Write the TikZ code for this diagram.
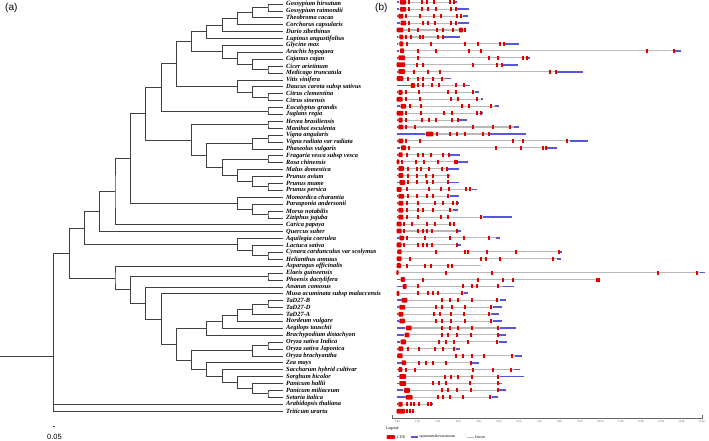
\documentclass[tikz,border=0pt]{standalone}
\usepackage{fontspec}
\setmainfont{Liberation Serif}
\newfontfamily\panelfont{Liberation Sans}
\usetikzlibrary{calc}

% clade: name, height, first child, second child
\newcommand\clade[4]{%
  \path let \p1=(#3), \p2=(#4) in coordinate (#1) at ({283.3pt-15.3pt*#2}, {(\y1+\y2)/2});
  \draw[branch] (#3) -| (#1) |- (#4);
}
% gene: row, end, UTRs, long CDS, short CDS centres
\newcommand\gene[5]{%
  \pgfmathsetmacro\gy{2.3+(#1-1)*6.93}
  \draw[intron] (20,\gy) -- (#2,\gy);
  \foreach \s/\e in {#3} \fill[utr] (\s,\gy-0.9) rectangle (\e,\gy+0.9);
  \foreach \s/\e in {#4} \fill[cds, rounded corners=0.8pt] (\s,\gy-2.4) rectangle (\e,\gy+2.4);
  \foreach \c in {#5} \fill[cds] (\c-3,\gy-2) rectangle (\c+3,\gy+2);
}

\begin{document}
\begin{tikzpicture}[x=1pt, y=-1pt,
    branch/.style={draw=black!75, line width=0.8pt},
    species/.style={anchor=west, inner sep=0pt, font=\fontsize{6.4}{7}\selectfont\bfseries\itshape},
    panel/.style={anchor=west, inner sep=0pt, font=\panelfont\fontsize{10}{12}\selectfont},
    cds/.style={fill=red!90!black},
    utr/.style={fill=blue!60!white!85!black},
    intron/.style={draw=black!28, line width=1.1pt},
    kb/.style={inner sep=0pt, font=\fontsize{3}{3.5}\selectfont},
    legendtext/.style={anchor=west, inner sep=0pt, font=\fontsize{4}{5}\selectfont}
  ]
  \useasboundingbox (0,0) rectangle (709,440);

  \node[panel] (pa) at (5,8) {(a)};
  \node[panel] (pb) at (375,8) {(b)};

  % leaves
  \foreach \tag/\name [count=\i] in {
      ghir/Gossypium hirsutum, grai/Gossypium raimondii, tcac/Theobroma cacao,
      ccap/Corchorus capsularis, dzib/Durio zibethinus, lang/Lupinus angustifolius,
      gmax/Glycine max, ahyp/Arachis hypogaea, ccaj/Cajanus cajan,
      cari/Cicer arietinum, mtru/Medicago truncatula, vvin/Vitis vinifera,
      dcar/Daucus carota subsp sativus, ccle/Citrus clementina, csin/Citrus sinensis,
      egra/Eucalyptus grandis, jreg/Juglans regia, hbra/Hevea brasiliensis,
      mesc/Manihot esculenta, vang/Vigna angularis, vrad/Vigna radiata var radiata,
      pvul/Phaseolus vulgaris, fves/Fragaria vesca subsp vesca, rchi/Rosa chinensis,
      mdom/Malus domestica, pavi/Prunus avium, pmum/Prunus mume,
      pper/Prunus persica, mcha/Momordica charantia, pand/Parasponia andersonii,
      mnot/Morus notabilis, zjuj/Ziziphus jujuba, cpap/Carica papaya,
      qsub/Quercus suber, acoe/Aquilegia coerulea, lsat/Lactuca sativa,
      ccar/Cynara cardunculus var scolymus, hann/Helianthus annuus, aoff/Asparagus officinalis,
      egui/Elaeis guineensis, pdac/Phoenix dactylifera, acom/Ananas comosus,
      macu/Musa acuminata subsp malaccensis, tab/TaD27-B, tad/TaD27-D,
      taa/TaD27-A, hvul/Hordeum vulgare, atau/Aegilops tauschii,
      bdis/Brachypodium distachyon, osi/Oryza sativa Indica, osj/Oryza sativa Japonica,
      obra/Oryza brachyantha, zmay/Zea mays, shyb/Saccharum hybrid cultivar,
      sbic/Sorghum bicolor, phal/Panicum hallii, pmil/Panicum miliaceum,
      sita/Setaria italica, atha/Arabidopsis thaliana, tura/Triticum urartu} {
    \coordinate (\tag) at (283.3, {4+(\i-1)*6.9});
    \node[species] (\tag-name) at (286, {4+(\i-1)*6.9}) {\name};
  }

  % eudicots
  \clade{c1}{1}{ghir}{grai}
  \clade{c2}{2}{c1}{tcac}
  \clade{c3}{3}{c2}{ccap}
  \clade{c4}{4}{c3}{dzib}
  \clade{c5}{5}{c4}{lang}
  \clade{c6}{1}{cari}{mtru}
  \clade{c7}{2}{ccaj}{c6}
  \clade{c8}{3}{ahyp}{c7}
  \clade{c9}{4}{gmax}{c8}
  \clade{c10}{6}{c5}{c9}
  \clade{c11}{1}{ccle}{csin}
  \clade{c12}{2}{dcar}{c11}
  \clade{c13}{3}{vvin}{c12}
  \clade{c14}{7}{c10}{c13}
  \clade{c15}{1}{egra}{jreg}
  \clade{c16}{8}{c14}{c15}
  \clade{c17}{1}{hbra}{mesc}
  \clade{c18}{1}{vang}{vrad}
  \clade{c19}{2}{c18}{pvul}
  \clade{c20}{1}{fves}{rchi}
  \clade{c21}{1}{pmum}{pper}
  \clade{c22}{2}{pavi}{c21}
  \clade{c23}{3}{mdom}{c22}
  \clade{c24}{4}{c20}{c23}
  \clade{c25}{5}{c19}{c24}
  \clade{c26}{6}{c17}{c25}
  \clade{c27}{9}{c16}{c26}
  \clade{c28}{1}{mnot}{zjuj}
  \clade{c29}{2}{pand}{c28}
  \clade{c30}{3}{mcha}{c29}
  \clade{c31}{10}{c27}{c30}
  \clade{c32}{11}{c31}{cpap}
  \clade{c33}{12}{c32}{qsub}
  \clade{c34}{1}{ccar}{hann}
  \clade{c35}{2}{lsat}{c34}
  \clade{c36}{3}{acoe}{c35}
  \clade{c37}{13}{c33}{c36}
  % monocots
  \clade{m1}{1}{egui}{pdac}
  \clade{m2}{1}{tab}{tad}
  \clade{m3}{2}{m2}{taa}
  \clade{m4}{3}{m3}{hvul}
  \clade{m5}{4}{m4}{atau}
  \clade{m6}{5}{m5}{bdis}
  \clade{m7}{1}{osi}{osj}
  \clade{m8}{2}{m7}{obra}
  \clade{m9}{1}{pmil}{sita}
  \clade{m10}{2}{phal}{m9}
  \clade{m11}{3}{sbic}{m10}
  \clade{m12}{4}{shyb}{m11}
  \clade{m13}{5}{zmay}{m12}
  \clade{m14}{6}{m8}{m13}
  \clade{m15}{7}{m6}{m14}
  \clade{m16}{8}{macu}{m15}
  \clade{m17}{9}{acom}{m16}
  \clade{m18}{10}{m1}{m17}
  \clade{m19}{11}{aoff}{m18}
  \clade{c38}{14}{c37}{m19}
  % root
  \path let \p1=(c38), \p2=(atha), \p3=(tura) in
    coordinate (root) at (53.5pt, {(\y1+\y2+\y3)/3})
    coordinate (base) at (0pt, {(\y1+\y2+\y3)/3});
  \draw[branch] (c38) -| (root) |- (tura);
  \draw[branch] (atha) -| (root);
  \draw[branch] (base) -- (root);

  % scale bar
  \coordinate (sb1) at (53.3,426);
  \coordinate (sb2) at (55,426);
  \draw[branch] (sb1) -- (sb2);
  \node[font=\panelfont\fontsize{7.5}{9}\selectfont, inner sep=0pt] (sbl) at (54.5,437) {0.05};

  % gene structures
  \begin{scope}[xshift=390pt, x=0.3333pt]
    \gene{1}{202}{20/28,195/202}{30/48}{57,97,112,133,180,192}
    \gene{2}{238}{20/28,200/238}{30/48}{57,97,115,137,183,197}
    \gene{3}{233}{20/25,218/233}{25/40}{47,90,133,153,200,213}
    \gene{4}{238}{20/30,203/238}{32/48}{56,100,115,135,183,199}
    \gene{5}{226}{20/20}{20/40,207/219}{56,83,140,160,190,225}
    \gene{6}{210}{20/25,162/210}{28/40}{47,63,90,98,143,158}
    \gene{7}{388}{20/25,345/388}{28/40}{50,122,225,265,330,342}
    \gene{8}{873}{20/28,853/873}{30/42}{85,138,238,272,770,852}
    \gene{9}{420}{20/25,415/420}{25/45}{83,297,325,398,410}
    \gene{10}{385}{20/20,338/385}{20/45}{80,98,248,320,335}
    \gene{11}{580}{20/25,500/580}{25/45}{72,113,150,480,498}
    \gene{12}{183}{20/20,165/183}{20/40}{55,85,100,130,155}
    \gene{13}{240}{20/60,225/240}{62/75}{85,100,125,148,198,222}
    \gene{14}{268}{20/25,255/268}{25/38}{48,88,173,197,250}
    \gene{15}{280}{20/20,273/280}{20/38}{48,90,183,205,260}
    \gene{16}{328}{20/30,315/328}{32/48}{60,93,215,238,302}
    \gene{17}{280}{20/20,275/280}{20/40}{47,93,163,185,260,272}
    \gene{18}{230}{20/25,207/230}{25/38}{48,95,117,137,185,205}
    \gene{19}{388}{20/25,372/388}{25/40}{48,75,248,310,360}
    \gene{20}{407}{20/105,298/407}{108/130}{140,180,200,225,280,296}
    \gene{21}{595}{20/25,540/595}{25/40}{48,90,370,400,530}
    \gene{22}{500}{20/30,470/500}{33/48}{57,318,393,460,468}
    \gene{23}{210}{20/25,180/210}{25/38}{50,83,100,123,160,177}
    \gene{24}{233}{20/20,205/233}{20/28}{37,78,103,145,195,202}
    \gene{25}{208}{20/25,175/208}{25/42}{55,80,93,118,155,172}
    \gene{26}{180}{20/25,176/180}{25/40}{53,80,108,128,173}
    \gene{27}{208}{20/28,177/208}{28/45}{55,80,110,128,173}
    \gene{28}{262}{20/20,245/262}{20/35}{50,118,153,177,228,240}
    \gene{29}{207}{20/25,180/207}{25/42}{53,80,110,130,175}
    \gene{30}{208}{20/25,204/208}{25/40}{50,85,135,158,190,202}
    \gene{31}{205}{20/25,190/205}{25/40}{50,85,100,128,180}
    \gene{32}{367}{20/25,280/367}{25/40}{50,85,153,173,272}
    \gene{33}{195}{20/20}{20/35}{42,65,110,135,180,192}
    \gene{34}{212}{20/20,202/212}{20/35}{42,85,98,112,125,200}
    \gene{35}{330}{20/28,318/330}{28/42}{50,105,180,222,297}
    \gene{36}{212}{20/20,202/212}{20/35}{42,85,98,112,125,200}
    \gene{37}{517}{20/22,510/517}{22/35}{137,225,235,290,378,508}
    \gene{38}{513}{20/20,500/513}{20/35}{60,273,287,330,488}
    \gene{39}{272}{20/20}{20/33}{52,105,122,175,187}
    \gene{40}{945}{20/20,930/945}{19/26}{168,305,803,920}
    \gene{41}{628}{20/30}{32/45}{98,265,340,370,620,628}
    \gene{42}{372}{20/35,338/372}{38/50}{85,218,245,260,325}
    \gene{43}{233}{20/20,222/233}{20/28}{83,115,130,145,215}
    \gene{44}{347}{20/35,330/347}{35/52}{157,180,205,245,322}
    \gene{45}{335}{20/28,310/335}{28/45}{137,157,185,225,302}
    \gene{46}{328}{20/25,303/328}{25/40}{133,150,183,222,297}
    \gene{47}{335}{20/28,310/335}{28/45}{137,157,183,225,302}
    \gene{48}{377}{20/45,330/377}{48/65}{157,180,205,245,323}
    \gene{49}{347}{20/42,328/347}{44/58}{155,173,200,243,323}
    \gene{50}{350}{20/30,328/350}{32/48}{148,167,193,233,322}
    \gene{51}{210}{20/25,197/210}{25/40}{55,88,135,160,193}
    \gene{52}{397}{20/22,375/397}{22/38}{198,218,245,282,365}
    \gene{53}{267}{20/35,245/267}{35/48}{88,108,130,168,242}
    \gene{54}{390}{20/25,372/390}{25/37}{47,75,248,310,362}
    \gene{55}{403}{20/28,330/403}{28/48}{165,183,205,245,323}
    \gene{56}{335}{20/28,328/335}{28/48}{128,148,168,240,323}
    \gene{57}{347}{20/40,328/347}{42/60}{155,173,200,243,323}
    \gene{58}{325}{20/48,305/325}{48/68}{145,160,180,220,300}
    \gene{59}{130}{20/25,125/130}{25/38}{50,63,73,88,115,123}
    \gene{60}{77}{20/20}{20/45}{52,60,70}
  \end{scope}

  % kb axis
  \coordinate (ax0) at (392,418);
  \coordinate (ax1) at (702.5,418);
  \draw[black!60, line width=0.4pt] (ax0) -- (ax1);
  \draw[black!60, line width=0.3pt] (ax0) -- ++(0,-3) (ax1) -- ++(0,-3);
  \foreach \k in {0,...,15}
    \draw[black!60, line width=0.3pt] (397.3+20.3*\k,418) -- ++(0,1)
      node[kb, below=0.8pt] (tick\k) {\k\,kb};

  % legend
  \node[legendtext] (lg) at (386,429) {Legend:};
  \coordinate (lc) at (386.5,437);
  \fill[cds, rounded corners=0.8pt] (lc) ++(0,-1.8) rectangle ++(8.5,3.6);
  \node[legendtext] (lcds) at (397,437) {CDS};
  \fill[utr] (411,436.3) rectangle (418,437.7);
  \node[legendtext] (lutr) at (419.5,437) {upstream/downstream};
  \draw[intron, line width=0.6pt] (467,437) -- (473.5,437);
  \node[legendtext] (lint) at (475,437) {Intron};
\end{tikzpicture}
\end{document}
